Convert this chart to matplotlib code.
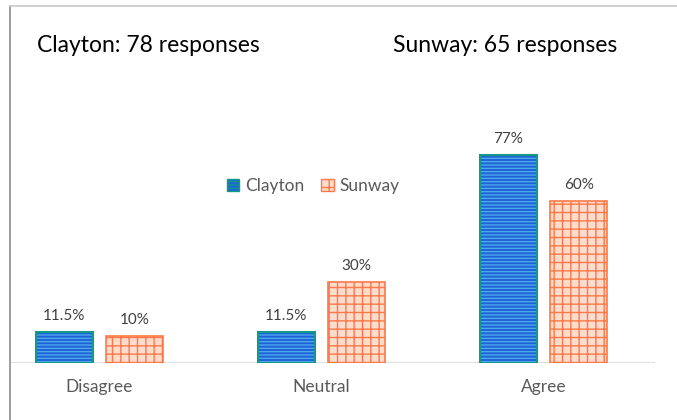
import matplotlib
matplotlib.use("Agg")
import matplotlib.pyplot as plt
from matplotlib.patches import Patch
from matplotlib.lines import Line2D
import numpy as np

categories = ["Disagree", "Neutral", "Agree"]
clayton = [11.5, 11.5, 77]
sunway = [10, 30, 60]
clayton_labels = ["11.5%", "11.5%", "77%"]
sunway_labels = ["10%", "30%", "60%"]

plt.rcParams["font.family"] = ["Lato", "DejaVu Sans"]
plt.rcParams["hatch.linewidth"] = 1.0

W, H = 677, 420
fig = plt.figure(figsize=(W / 100, H / 100), dpi=100)
fig.patch.set_facecolor("white")

# outer frame: left and top lines only
fig.add_artist(Line2D([10 / W, 10 / W], [0, 1 - 6 / H], color="#8c8c8c", lw=1.2))
fig.add_artist(Line2D([10 / W, 1], [1 - 6 / H, 1 - 6 / H], color="#c8c8c8", lw=1.2))

ax = fig.add_axes([10 / W, 57 / H, 645 / W, 357 / H])
ax.set_xlim(-0.403, 2.502)
ax.set_ylim(0, 132)
for s in ax.spines.values():
    s.set_visible(False)
ax.axhline(0, color="#d9d9d9", lw=1.2, zorder=1)
ax.set_yticks([])
ax.set_xticks([])

x = np.arange(len(categories))
off = 0.158
bw = 0.257

blue_face = "#1f63d6"
blue_line = "#4aa8ec"
teal = "#12998a"
peach_face = "#fddbcd"
orange = "#fb7a48"

# Clayton bars
ax.bar(x - off, clayton, bw, color=blue_face, edgecolor="none", zorder=2)
ax.bar(x - off, clayton, bw, color="none", edgecolor=blue_line, hatch="-----", lw=0, zorder=3)
ax.bar(x - off, clayton, bw, fill=False, edgecolor=teal, lw=1.5, zorder=4)
# Sunway bars
ax.bar(x + off, sunway, bw, color=peach_face, edgecolor="none", zorder=2)
ax.bar(x + off, sunway, bw, color="none", edgecolor=orange, hatch="++", lw=0, zorder=3)
ax.bar(x + off, sunway, bw, fill=False, edgecolor=orange, lw=1.2, zorder=4)

for i in range(len(categories)):
    ax.text(x[i] - off, clayton[i] + 3.3, clayton_labels[i], ha="center", va="bottom",
            fontsize=11, color="#404040")
    ax.text(x[i] + off, sunway[i] + 3.3, sunway_labels[i], ha="center", va="bottom",
            fontsize=11, color="#404040")
    ax.text(x[i], -9, categories[i], ha="center", va="center", fontsize=12.5,
            color="#595959")

handles = [
    Patch(facecolor=blue_face, edgecolor=teal, hatch="-----", label="Clayton"),
    Patch(facecolor=peach_face, edgecolor=orange, hatch="++", label="Sunway"),
]
leg = ax.legend(handles=handles, loc="center", bbox_to_anchor=(0.47, 0.496), ncol=2,
                frameon=False, fontsize=12.5, handlelength=0.7, handleheight=0.7,
                handletextpad=0.35, columnspacing=1.0)
for t in leg.get_texts():
    t.set_color("#595959")

fig.text(37 / W, 1 - 46 / H, "Clayton: 78 responses", fontsize=16.5, va="center",
         ha="left", color="black")
fig.text(393 / W, 1 - 46 / H, "Sunway: 65 responses", fontsize=16.5, va="center",
         ha="left", color="black")

fig.savefig("out.png", dpi=100, facecolor="white")
